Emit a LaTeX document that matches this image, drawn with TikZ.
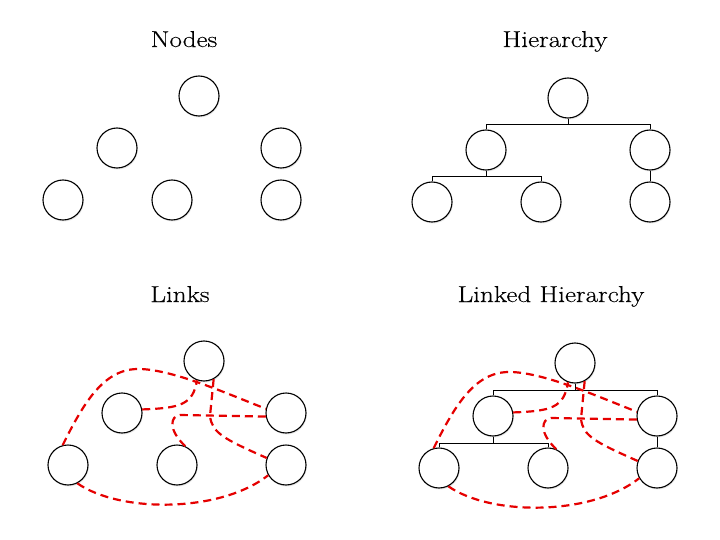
\documentclass[tikz,border=0pt]{standalone}
\usepackage{fontspec}
\setmainfont{Latin Modern Roman}[FakeStretch=1.18,FakeBold=0.4]
\usetikzlibrary{shadows}
\begin{document}
\begin{tikzpicture}[x=1pt,y=-1pt,
  nd/.style={circle,draw=black,line width=1.1pt,fill=white,minimum size=40pt,inner sep=0pt,
    drop shadow={opacity=0.18,shadow xshift=0.8pt,shadow yshift=-1.5pt}},
  title/.style={font=\fontsize{23}{27}\selectfont,anchor=base},
  tree/.style={draw=black,line width=0.8pt},
  lnk/.style={draw=red!90!black,line width=2.2pt,dash pattern=on 8pt off 5pt}]
\useasboundingbox (0,0) rectangle (720,540);

% Titles
\node[title] (tN) at (184,47) {Nodes};
\node[title] (tH) at (555,47) {Hierarchy};
\node[title] (tL) at (180,302) {Links};
\node[title] (tLH) at (551,302) {Linked Hierarchy};

% Nodes panel
\begin{scope}[shift={(199,96)}]
\node[nd] (Nt) at (0,0) {};
\node[nd] (Nml) at (-82,52) {};
\node[nd] (Nmr) at (82,52) {};
\node[nd] (Nbl) at (-136,104) {};
\node[nd] (Nbm) at (-27,104) {};
\node[nd] (Nbr) at (82,104) {};
\end{scope}

% Hierarchy panel
\begin{scope}[shift={(568,98)}]
\node[nd] (Ht) at (0,0) {};
\node[nd] (Hml) at (-82,52) {};
\node[nd] (Hmr) at (82,52) {};
\node[nd] (Hbl) at (-136,104) {};
\node[nd] (Hbm) at (-27,104) {};
\node[nd] (Hbr) at (82,104) {};
\draw[tree] (Ht.south) |- (0,26) -| (Hml.north);
\draw[tree] (0,26) -| (Hmr.north);
\draw[tree] (Hml.south) |- (-82,78) -| (Hbl.north);
\draw[tree] (-82,78) -| (Hbm.north);
\draw[tree] (Hmr.south) -- (Hbr.north);
\end{scope}

% Links panel
\begin{scope}[shift={(204,361)}]
\node[nd] (Lt) at (0,0) {};
\node[nd] (Lml) at (-82,52) {};
\node[nd] (Lmr) at (82,52) {};
\node[nd] (Lbl) at (-136,104) {};
\node[nd] (Lbm) at (-27,104) {};
\node[nd] (Lbr) at (82,104) {};
\draw[lnk] (Lbl.105) .. controls (-119,39) and (-99,7) .. (-64,8) .. controls (-29,9) and (26,34) .. (Lmr.168);
\draw[lnk] (Lml.10) .. controls (-24,47) and (-11,44) .. (Lt.250);
\draw[lnk] (Lt.298) -- (6,55) .. controls (8,72) and (20,78) .. (Lbr.160);
\draw[lnk] (Lmr.190) -- (-24,54) .. controls (-34,55) and (-36,69) .. (Lbm.66);
\draw[lnk] (Lbl.297) .. controls (-84,152) and (16,152) .. (Lbr.210);
\end{scope}

% Linked hierarchy panel
\begin{scope}[shift={(575,363)}]
\node[nd] (Kt) at (0,0) {};
\node[nd] (Kml) at (-82,53) {};
\node[nd] (Kmr) at (82,53) {};
\node[nd] (Kbl) at (-136,105) {};
\node[nd] (Kbm) at (-27,105) {};
\node[nd] (Kbr) at (82,105) {};
\draw[tree] (Kt.south) |- (-82,27) -- (Kml.north);
\draw[tree] (0,27) -| (Kmr.north);
\draw[tree] (Kml.south) |- (-82,80) -| (Kbl.north);
\draw[tree] (-82,80) -| (Kbm.north);
\draw[tree] (Kmr.south) -- (Kbr.north);
\draw[lnk] (Kbl.105) .. controls (-119,40) and (-99,8) .. (-64,9) .. controls (-29,10) and (26,35) .. (Kmr.168);
\draw[lnk] (Kml.10) .. controls (-24,48) and (-11,45) .. (Kt.250);
\draw[lnk] (Kt.298) -- (6,56) .. controls (8,73) and (20,79) .. (Kbr.160);
\draw[lnk] (Kmr.190) -- (-24,55) .. controls (-34,56) and (-36,70) .. (Kbm.66);
\draw[lnk] (Kbl.297) .. controls (-84,153) and (16,153) .. (Kbr.210);
\end{scope}
\end{tikzpicture}
\end{document}
